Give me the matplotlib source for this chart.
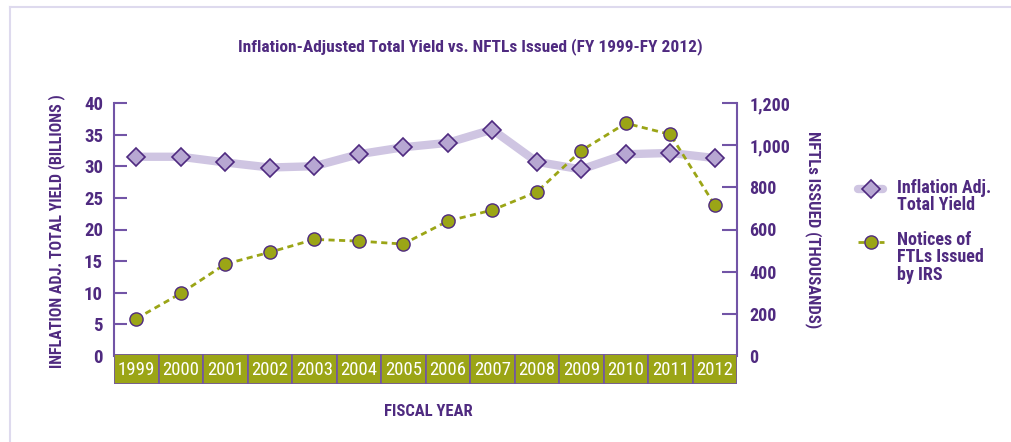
import matplotlib.pyplot as plt
import numpy as np
from matplotlib.lines import Line2D

years = ['1999', '2000', '2001', '2002', '2003', '2004', '2005',
         '2006', '2007', '2008', '2009', '2010', '2011', '2012']
yield_bn = [31.5, 31.5, 30.6, 29.8, 30.0, 31.9, 33.0,
            33.7, 35.8, 30.7, 29.5, 31.9, 32.1, 31.3]
nftls_k = [177, 297, 436, 492, 553, 545, 531,
           640, 692, 778, 974, 1104, 1051, 716]
left_ticks = [0, 5, 10, 15, 20, 25, 30, 35, 40]
right_ticks = [0, 200, 400, 600, 800, 1000, 1200]
right_labels = ['0', '200', '400', '600', '800', '1,000', '1,200']

purple = '#4f2a80'
spine_c = '#7254a6'
olive = '#9ba516'
lav = '#cfc5e2'
dia_fill = '#b7a7d2'

plt.rcParams['font.family'] = ['Roboto Condensed', 'DejaVu Sans']
plt.rcParams['font.stretch'] = 'condensed'

W, H = 1011, 442
fig = plt.figure(figsize=(W / 100, H / 100), dpi=100)

def box(l, t, r, b):
    return [l / W, 1 - b / H, (r - l) / W, (b - t) / H]

def fx(px):
    return px / W

def fy(py):
    return 1 - py / H

x = np.arange(len(years))

ax = fig.add_axes(box(114, 103, 737, 356))
ax.plot(x, yield_bn, color=lav, lw=6, marker='D', ms=9,
        markerfacecolor=dia_fill, markeredgecolor=purple, mew=1.2,
        solid_capstyle='round')
ax.set_xlim(-0.5, len(years) - 0.5)
ax.set_ylim(0, 40)
ax.set_yticks(left_ticks)
ax.set_xticks([])
for s in ['top', 'bottom', 'right']:
    ax.spines[s].set_visible(False)
ax.spines['left'].set_color(spine_c)
ax.spines['left'].set_linewidth(1.5)
ax.tick_params(axis='y', direction='in', length=9, width=1.5, color=spine_c,
               labelcolor=purple, labelsize=13.5, pad=8)
for t in ax.get_yticklabels():
    t.set_fontweight('bold')

ax2 = ax.twinx()
ax2.plot(x, nftls_k, color=olive, lw=2, ls=(0, (2.2, 1.6)), marker='o', ms=9.5,
         markerfacecolor=olive, markeredgecolor=purple, mew=1.0)
ax2.set_ylim(0, 1200)
ax2.set_yticks(right_ticks)
ax2.set_yticklabels(right_labels)
for s in ['top', 'bottom', 'left']:
    ax2.spines[s].set_visible(False)
ax2.spines['right'].set_color(spine_c)
ax2.spines['right'].set_linewidth(1.5)
ax2.tick_params(axis='y', direction='in', length=11, width=1.5, color=spine_c,
                labelcolor=purple, labelsize=13, pad=9)
for t in ax2.get_yticklabels():
    t.set_fontweight('bold')

# year band
axb = fig.add_axes(box(114, 354, 737, 384))
axb.bar(x, [1] * len(years), width=1, color=olive, edgecolor=spine_c, lw=1.2)
axb.set_xlim(-0.5, len(years) - 0.5)
axb.set_ylim(0, 1)
axb.axis('off')
for i, yr in enumerate(years):
    axb.text(i, 0.47, yr, ha='center', va='center', color='white', fontsize=13.5)

# legend, markers aligned with first text line
fig.add_artist(Line2D([fx(858), fx(883)], [fy(189), fy(189)], color=lav, lw=6,
                      solid_capstyle='round'))
fig.add_artist(Line2D([fx(870.5)], [fy(189)], marker='D', ms=9,
                      markerfacecolor=dia_fill, markeredgecolor=purple, mew=1.2))
fig.add_artist(Line2D([fx(858), fx(884)], [fy(242), fy(242)], color=olive, lw=2,
                      ls=(0, (2.2, 1.6))))
fig.add_artist(Line2D([fx(871)], [fy(242)], marker='o', ms=9.5,
                      markerfacecolor=olive, markeredgecolor=purple, mew=1.0))
fig.text(fx(897), fy(179), 'Inflation Adj.\nTotal Yield', ha='left', va='top',
         color=purple, fontsize=13, fontweight='bold', linespacing=0.95)
fig.text(fx(897), fy(231), 'Notices of\nFTLs Issued\nby IRS', ha='left', va='top',
         color=purple, fontsize=13, fontweight='bold', linespacing=0.95)

fig.text(fx(470), fy(47),
         'Inflation-Adjusted Total Yield vs. NFTLs Issued (FY 1999-FY 2012)',
         ha='center', va='center', color=purple, fontsize=12.5, fontweight='bold')
fig.text(fx(57), fy(231), 'INFLATION ADJ. TOTAL YIELD (BILLIONS )',
         rotation=90, ha='center', va='center', color=purple,
         fontsize=11.5, fontweight='bold')
fig.text(fx(813), fy(230), 'NFTLs ISSUED (THOUSANDS)',
         rotation=270, ha='center', va='center', color=purple,
         fontsize=12, fontweight='bold')
fig.text(fx(428), fy(412), 'FISCAL YEAR', ha='center', va='center',
         color=purple, fontsize=12, fontweight='bold')

# light frame
fig.add_artist(Line2D([fx(10), fx(10)], [0, fy(7)], color='#dedaee', lw=1.5))
fig.add_artist(Line2D([fx(10), 1], [fy(7), fy(7)], color='#dedaee', lw=1.5))

fig.savefig('out.png', dpi=100)
